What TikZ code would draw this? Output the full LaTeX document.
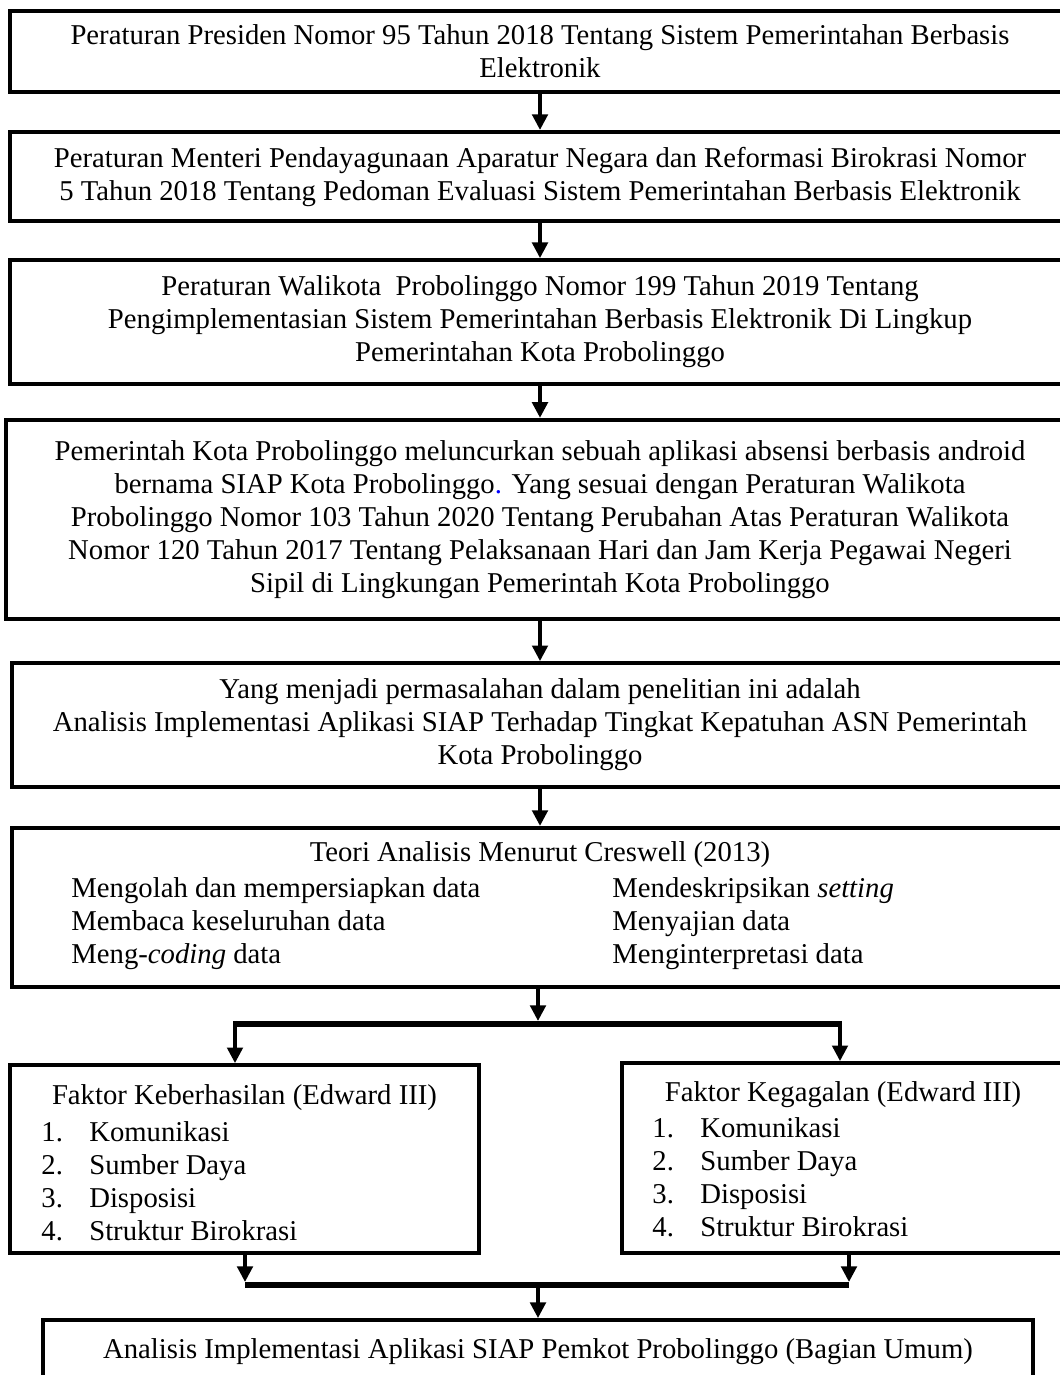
\documentclass[tikz,border=0pt]{standalone}
\usepackage{fontspec}
\setmainfont{Liberation Serif}
\usetikzlibrary{arrows.meta}

\tikzset{
  kotak/.style={draw, line width=1.7pt, align=center, inner sep=0pt, font=\fontsize{12}{13.8}\selectfont},
  teks/.style={inner sep=0pt, align=left, font=\fontsize{12}{13.8}\selectfont},
  panah/.style={line width=1.4pt, -{Triangle[width=6.5pt,length=6.5pt]}},
  garis/.style={line width=2.6pt},
}
\newcommand{\butir}[2]{\makebox[20pt][l]{#1}#2}

\begin{document}
\begin{tikzpicture}[x=0.0147cm, y=-0.0147cm]
\useasboundingbox (0,0) rectangle (1060,1375);

% Dasar hukum
\node[kotak, minimum width=15.58cm, minimum height=1.19cm] (perpres) at (540,51.5) {Peraturan Presiden Nomor 95 Tahun 2018 Tentang Sistem Pemerintahan Berbasis\\Elektronik};
\node[kotak, minimum width=15.58cm, minimum height=1.31cm] (permen) at (540,176.5) {Peraturan Menteri Pendayagunaan Aparatur Negara dan Reformasi Birokrasi Nomor\\5 Tahun 2018 Tentang Pedoman Evaluasi Sistem Pemerintahan Berbasis Elektronik};
\node[kotak, minimum width=15.58cm, minimum height=1.82cm] (perwali) at (540,322) {Peraturan Walikota\ \ Probolinggo Nomor 199 Tahun 2019 Tentang\\Pengimplementasian Sistem Pemerintahan Berbasis Elektronik Di Lingkup\\Pemerintahan Kota Probolinggo};
\node[kotak, minimum width=15.70cm, minimum height=2.93cm] (siap) at (540,519.5) {Pemerintah Kota Probolinggo meluncurkan sebuah aplikasi absensi berbasis android\\bernama SIAP Kota Probolinggo\textcolor{blue}{.} Yang sesuai dengan Peraturan Walikota\\Probolinggo Nomor 103 Tahun 2020 Tentang Perubahan Atas Peraturan Walikota\\Nomor 120 Tahun 2017 Tentang Pelaksanaan Hari dan Jam Kerja Pegawai Negeri\\Sipil di Lingkungan Pemerintah Kota Probolinggo};

% Masalah
\node[kotak, minimum width=15.52cm, minimum height=1.82cm] (masalah) at (540,725) {Yang menjadi permasalahan dalam penelitian ini adalah\\Analisis Implementasi Aplikasi SIAP Terhadap Tingkat Kepatuhan ASN Pemerintah\\Kota Probolinggo};

% Teori
\node[kotak, minimum width=15.52cm, minimum height=2.34cm] (teori) at (540,907.5) {};
\node[teks] (judulteori) at (540,855) {Teori Analisis Menurut Creswell (2013)};
\node[teks, anchor=west] (langkahA) at (71,924) {Mengolah dan mempersiapkan data\\Membaca keseluruhan data\\Meng-\textit{coding} data};
\node[teks, anchor=west] (langkahB) at (612,924) {Mendeskripsikan \textit{setting}\\Menyajian data\\Menginterpretasi data};

% Faktor
\node[kotak, minimum width=6.89cm, minimum height=2.76cm] (sukses) at (244.5,1159) {};
\node[teks] (judulsukses) at (244.5,1098) {Faktor Keberhasilan (Edward III)};
\node[teks, anchor=west] (daftarsukses) at (41,1181) {\butir{1.}{Komunikasi}\\\butir{2.}{Sumber Daya}\\\butir{3.}{Disposisi}\\\butir{4.}{Struktur Birokrasi}};

\node[kotak, minimum width=6.73cm, minimum height=2.79cm] (gagal) at (851,1158) {};
\node[teks] (judulgagal) at (843,1095) {Faktor Kegagalan (Edward III)};
\node[teks, anchor=west] (daftargagal) at (652,1177) {\butir{1.}{Komunikasi}\\\butir{2.}{Sumber Daya}\\\butir{3.}{Disposisi}\\\butir{4.}{Struktur Birokrasi}};

% Hasil
\node[kotak, minimum width=14.55cm, minimum height=0.94cm] (hasil) at (538,1352) {Analisis Implementasi Aplikasi SIAP Pemkot Probolinggo (Bagian Umum)};

% Titik cabang
\coordinate (cabang) at (538,1024);
\coordinate (cabangL) at (235,1024);
\coordinate (cabangR) at (840,1024);
\coordinate (gabung) at (538,1285);
\coordinate (gabungL) at (245,1285);
\coordinate (gabungR) at (849,1285);

% Panah
\draw[panah] (perpres) -- (permen);
\draw[panah] (permen) -- (perwali);
\draw[panah] (perwali) -- (siap);
\draw[panah] (siap) -- (masalah);
\draw[panah] (masalah) -- (teori);
\draw[panah] (teori.south -| cabang) -- ([yshift=1.3pt]cabang);
\draw[garis] (cabangL) -- (cabangR);
\draw[panah] ([yshift=1.3pt]cabangL) -- (cabangL |- sukses.north);
\draw[panah] ([yshift=1.3pt]cabangR) -- (cabangR |- gagal.north);
\draw[panah] (sukses.south -| gabungL) -- ([yshift=1.3pt]gabungL);
\draw[panah] (gagal.south -| gabungR) -- ([yshift=1.3pt]gabungR);
\draw[garis] (gabungL) -- (gabungR);
\draw[panah] ([yshift=-1.3pt]gabung) -- (hasil);

\end{tikzpicture}
\end{document}
